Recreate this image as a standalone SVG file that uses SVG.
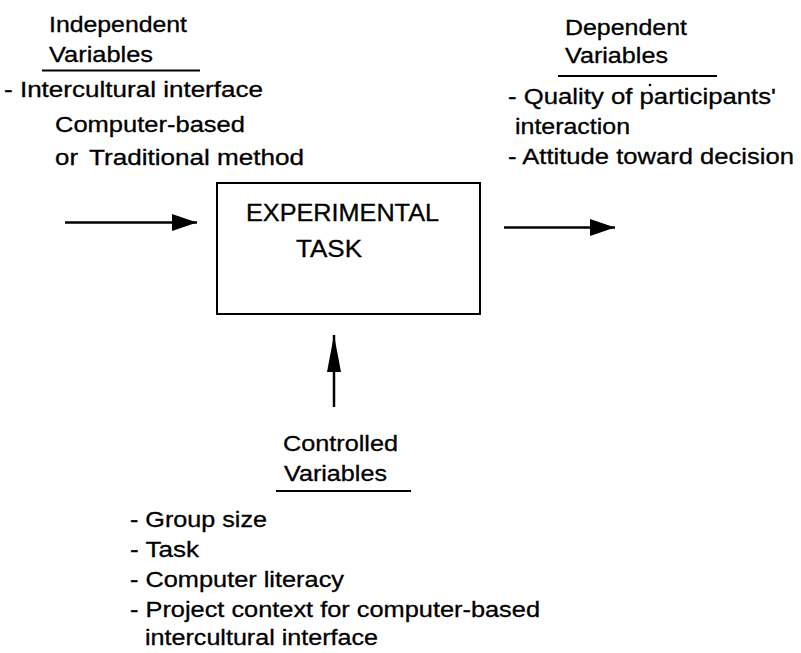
<svg xmlns="http://www.w3.org/2000/svg" width="801" height="653" viewBox="0 0 801 653">
<style>
  text { font-family: "Liberation Sans", Arial, sans-serif; font-size: 22px; fill: #000; stroke: #000; stroke-width: 0.3; }
  .box-text { font-size: 23px; }
  .rule { stroke: #000; stroke-width: 2; }
  .node-box { fill: #fff; stroke: #000; stroke-width: 2; }
  .conn { stroke: #000; stroke-width: 2.5; fill: none; }
</style>
<defs>
  <marker id="arrowH" markerUnits="userSpaceOnUse" markerWidth="25" markerHeight="17" refX="25" refY="8.5" orient="auto">
    <path d="M0,0 L25,8.5 L0,17 Z" fill="#000"/>
  </marker>
  <marker id="arrowV" markerUnits="userSpaceOnUse" markerWidth="37" markerHeight="14" refX="37" refY="7" orient="auto">
    <path d="M0,0 L37,7 L0,14 Z" fill="#000"/>
  </marker>
</defs>
<rect width="801" height="653" fill="#fff"/>

<g id="independent-variables">
  <text x="49" y="32" textLength="138" lengthAdjust="spacingAndGlyphs">Independent</text>
  <text x="49" y="62" textLength="104" lengthAdjust="spacingAndGlyphs">Variables</text>
  <line class="rule" x1="42" y1="70.5" x2="200" y2="70.5"/>
  <text x="4" y="97" textLength="259" lengthAdjust="spacingAndGlyphs">- Intercultural interface</text>
  <text x="55" y="132" textLength="190" lengthAdjust="spacingAndGlyphs">Computer-based</text>
  <text x="55" y="165" textLength="23" lengthAdjust="spacingAndGlyphs">or</text>
  <text x="89" y="165" textLength="215" lengthAdjust="spacingAndGlyphs">Traditional method</text>
</g>

<g id="experimental-task">
  <rect class="node-box" x="217" y="183" width="263" height="131"/>
  <text class="box-text" x="246" y="221" textLength="193" lengthAdjust="spacingAndGlyphs">EXPERIMENTAL</text>
  <text class="box-text" x="296" y="257" textLength="66" lengthAdjust="spacingAndGlyphs">TASK</text>
</g>

<g id="dependent-variables">
  <text x="565" y="35" textLength="122" lengthAdjust="spacingAndGlyphs">Dependent</text>
  <text x="565" y="63" textLength="103" lengthAdjust="spacingAndGlyphs">Variables</text>
  <line class="rule" x1="558" y1="76" x2="717" y2="76"/>
  <circle cx="650" cy="85" r="1.3" fill="#000"/>
  <text x="508" y="103.5" textLength="268" lengthAdjust="spacingAndGlyphs">- Quality of participants'</text>
  <text x="515" y="133.5" textLength="115" lengthAdjust="spacingAndGlyphs">interaction</text>
  <text x="508" y="163.5" textLength="286" lengthAdjust="spacingAndGlyphs">- Attitude toward decision</text>
</g>

<g id="controlled-variables">
  <text x="283" y="451" textLength="115" lengthAdjust="spacingAndGlyphs">Controlled</text>
  <text x="284" y="481" textLength="103" lengthAdjust="spacingAndGlyphs">Variables</text>
  <line class="rule" x1="276" y1="491" x2="411" y2="491"/>
  <text x="130" y="527" textLength="137" lengthAdjust="spacingAndGlyphs">- Group size</text>
  <text x="130" y="557" textLength="69" lengthAdjust="spacingAndGlyphs">- Task</text>
  <text x="130" y="587" textLength="214" lengthAdjust="spacingAndGlyphs">- Computer literacy</text>
  <text x="130" y="617" textLength="410" lengthAdjust="spacingAndGlyphs">- Project context for computer-based</text>
  <text x="145" y="645" textLength="233" lengthAdjust="spacingAndGlyphs">intercultural interface</text>
</g>

<g id="connectors">
  <line class="conn" x1="65" y1="222.5" x2="197" y2="222.5" marker-end="url(#arrowH)"/>
  <line class="conn" x1="504" y1="227.5" x2="615" y2="227.5" marker-end="url(#arrowH)"/>
  <line class="conn" x1="334" y1="407" x2="334" y2="335" marker-end="url(#arrowV)"/>
</g>
</svg>
